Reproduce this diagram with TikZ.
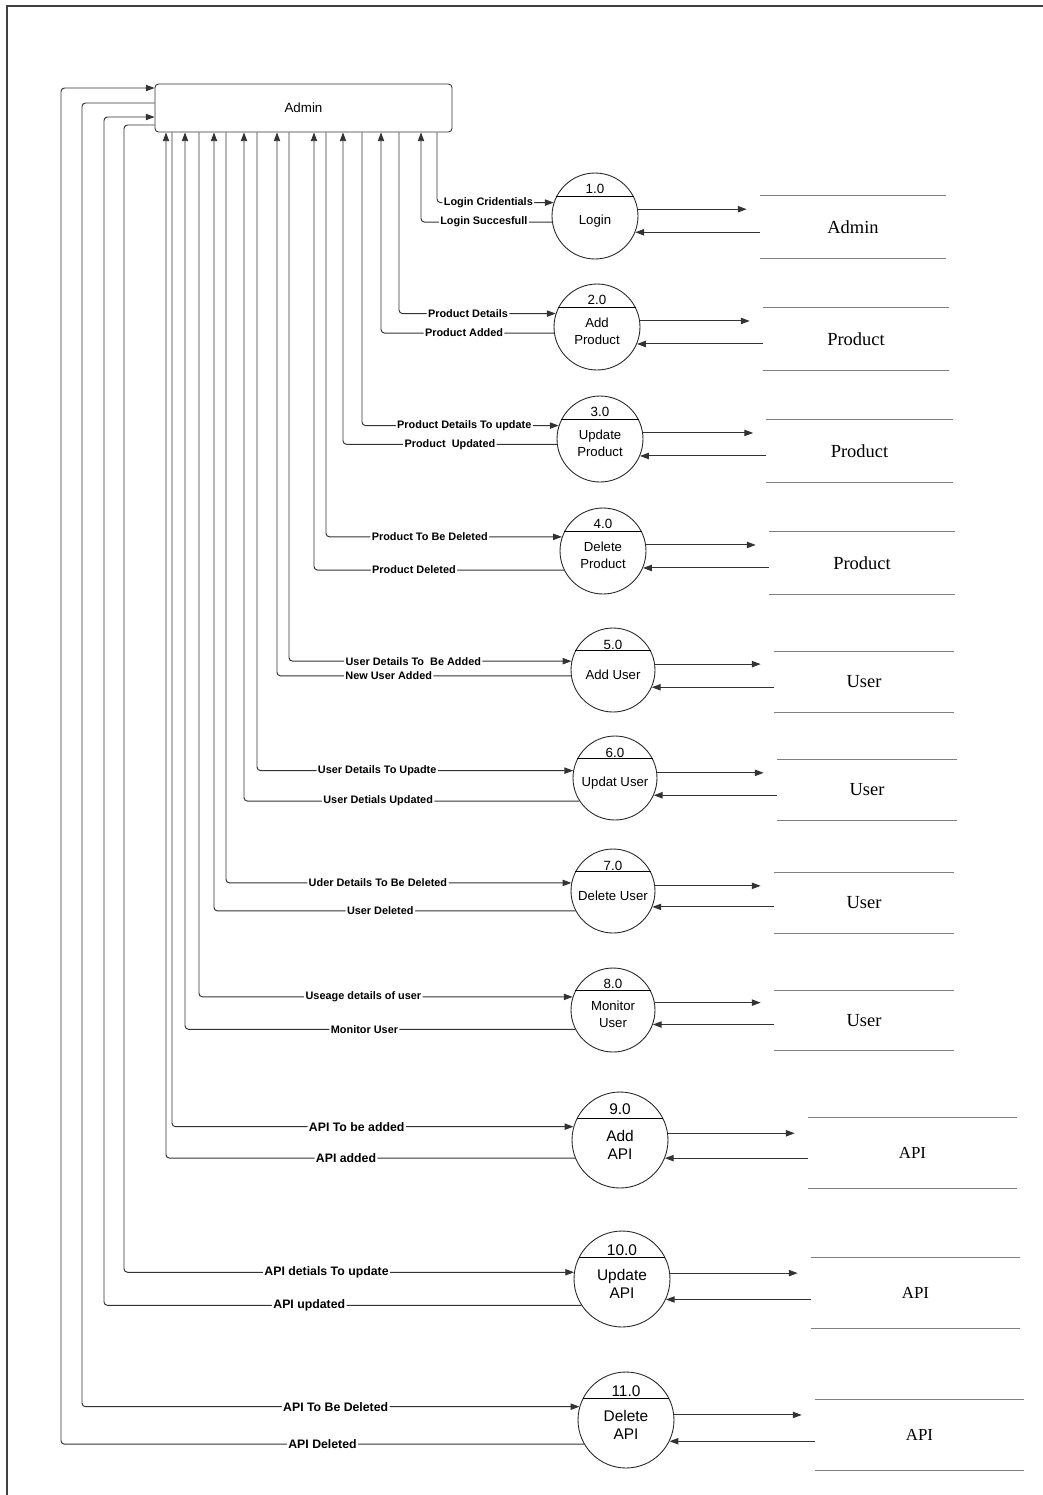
\documentclass[tikz,border=0pt]{standalone}
\usepackage{fontspec}
\setmainfont{Liberation Serif}
\setsansfont{Liberation Sans}
\usetikzlibrary{arrows.meta, calc}

\begin{document}
\begin{tikzpicture}[x=0.02cm, y=-0.02cm,
  proc/.style={circle, draw=black!85, line width=0.5pt, minimum size=1.72cm, inner sep=0pt, align=center, font=\sffamily\fontsize{7.5}{9.7}\selectfont, execute at begin node={\rule{0pt}{11.2pt}}},
  twoline/.style={execute at begin node={\rule{0pt}{19.8pt}}},
  bigproc/.style={proc, minimum size=1.92cm, font=\sffamily\fontsize{8.8}{10.3}\selectfont, execute at begin node={\rule{0pt}{21.8pt}}},
  num/.style={inner sep=0pt, font=\sffamily\fontsize{7.6}{9}\selectfont},
  bignum/.style={num, font=\sffamily\fontsize{8.8}{10.3}\selectfont},
  flow/.style={draw=black!80, line width=0.55pt, rounded corners=2pt, -{Triangle[length=5pt, width=3.6pt]}},
  tostore/.style={flow, shorten >=0.26cm},
  lbl/.style={fill=white, inner sep=0.8pt, font=\sffamily\bfseries\fontsize{6.2}{7}\selectfont},
  biglbl/.style={lbl, font=\sffamily\bfseries\fontsize{7}{8}\selectfont},
  store/.style={minimum width=3.72cm, minimum height=1.24cm, inner sep=0pt, font=\fontsize{10.5}{12}\selectfont,
    append after command={(\tikzlastnode.north west) edge[gray, line width=0.6pt] (\tikzlastnode.north east)
      (\tikzlastnode.south west) edge[gray, line width=0.6pt] (\tikzlastnode.south east)}}]
\useasboundingbox (0,0) rectangle (1043,1495);

%frame
\draw[black!75, line width=0.7pt] (7,1495) -- (7,6) -- (1043,6);

%admin
\node[draw=black!80, rounded corners=2pt, line width=0.5pt, minimum width=5.94cm, minimum height=0.96cm, font=\sffamily\fontsize{7.6}{9}\selectfont] (admin) at (303.5,108) {Admin};

%login
\node[proc] (p1) at (595,216) {Login};
\draw (p1.153) -- (p1.27);
\node[num] (n1) at ($(p1)+(0,-27)$) {1.0};
\node[store] (s1) at (853,227) {Admin};
\draw[flow] (admin.south -| 437,0) |- (p1.162) node[lbl, pos=0.72] {Login Cridentials};
\draw[flow] (p1.188) -| (admin.south -| 421,0) node[lbl, pos=0.26] {Login Succesfull};
\draw[tostore] (p1.9) -- (p1.9 -| s1.west);
\draw[flow] (s1.west |- p1.-22) -- (p1.-22);

%add product
\node[proc, twoline] (p2) at (597,327) {Add\\Product};
\draw (p2.153) -- (p2.27);
\node[num] (n2) at ($(p2)+(0,-27)$) {2.0};
\node[store] (s2) at (856,339) {Product};
\draw[flow] (admin.south -| 399,0) |- (p2.162) node[lbl, pos=0.72] {Product Details};
\draw[flow] (p2.188) -| (admin.south -| 381,0) node[lbl, pos=0.26] {Product Added};
\draw[tostore] (p2.8) -- (p2.8 -| s2.west);
\draw[flow] (s2.west |- p2.-23) -- (p2.-23);

%update product
\node[proc, twoline] (p3) at (600,439) {Update\\Product};
\draw (p3.153) -- (p3.27);
\node[num] (n3) at ($(p3)+(0,-27)$) {3.0};
\node[store] (s3) at (859.5,451) {Product};
\draw[flow] (admin.south -| 362,0) |- (p3.162) node[lbl, pos=0.76] {Product Details To update};
\draw[flow] (p3.187) -| (admin.south -| 343,0) node[lbl, pos=0.25] {Product~ Updated};
\draw[tostore] (p3.8) -- (p3.8 -| s3.west);
\draw[flow] (s3.west |- p3.-23) -- (p3.-23);

%delete product
\node[proc, twoline] (p4) at (603,551) {Delete\\Product};
\draw (p4.153) -- (p4.27);
\node[num] (n4) at ($(p4)+(0,-27)$) {4.0};
\node[store] (s4) at (862,563) {Product};
\draw[flow] (admin.south -| 326,0) |- (p4.161) node[lbl, pos=0.72] {Product To Be Deleted};
\draw[flow] (p4.206) -| (admin.south -| 314,0) node[lbl, pos=0.30] {Product Deleted};
\draw[tostore] (p4.8) -- (p4.8 -| s4.west);
\draw[flow] (s4.west |- p4.-23) -- (p4.-23);

%add user
\node[proc, minimum size=1.68cm] (p5) at (613,670) {Add User};
\draw (p5.153) -- (p5.27);
\node[num] (n5) at ($(p5)+(0,-25)$) {5.0};
\node[store, minimum width=3.6cm, minimum height=1.2cm] (s5) at (864,682) {User};
\draw[flow] (admin.south -| 289,0) |- (p5.168) node[lbl, pos=0.72] {User Details To~ Be Added};
\draw[flow] (p5.188) -| (admin.south -| 277,0) node[lbl, pos=0.31] {New User Added};
\draw[tostore] (p5.8) -- (p5.8 -| s5.west);
\draw[flow] (s5.west |- p5.-24) -- (p5.-24);

%update user
\node[proc, minimum size=1.68cm] (p6) at (615,778) {Updat User};
\draw (p6.153) -- (p6.27);
\node[num] (n6) at ($(p6)+(0,-25)$) {6.0};
\node[store, minimum width=3.6cm, minimum height=1.2cm] (s6) at (867,790) {User};
\draw[flow] (admin.south -| 257,0) |- (p6.170) node[lbl, pos=0.69] {User Details To Upadte};
\draw[flow] (p6.213) -| (admin.south -| 244,0) node[lbl, pos=0.30] {User Detials Updated};
\draw[tostore] (p6.7) -- (p6.7 -| s6.west);
\draw[flow] (s6.west |- p6.-24) -- (p6.-24);

%delete user
\node[proc, minimum size=1.68cm] (p7) at (613,891) {Delete User};
\draw (p7.153) -- (p7.27);
\node[num] (n7) at ($(p7)+(0,-25)$) {7.0};
\node[store, minimum width=3.6cm, minimum height=1.2cm] (s7) at (864,903) {User};
\draw[flow] (admin.south -| 226,0) |- (p7.169) node[lbl, pos=0.72] {Uder Details To Be Deleted};
\draw[flow] (p7.208) -| (admin.south -| 214,0) node[lbl, pos=0.27] {User Deleted};
\draw[tostore] (p7.7) -- (p7.7 -| s7.west);
\draw[flow] (s7.west |- p7.-22) -- (p7.-22);

%monitor user
\node[proc, twoline, minimum size=1.68cm] (p8) at (613,1010) {Monitor\\User};
\draw (p8.153) -- (p8.27);
\node[num] (n8) at ($(p8)+(0,-26)$) {8.0};
\node[store, minimum width=3.6cm, minimum height=1.2cm] (s8) at (864,1020.5) {User};
\draw[flow] (admin.south -| 199,0) |- (p8.162) node[lbl, pos=0.72] {Useage details of user};
\draw[flow] (p8.207) -| (admin.south -| 185,0) node[lbl, pos=0.27] {Monitor User};
\draw[tostore] (p8.10) -- (p8.10 -| s8.west);
\draw[flow] (s8.west |- p8.-20) -- (p8.-20);

%add api
\node[bigproc] (p9) at (620,1140) {Add\\API};
\draw (p9.153) -- (p9.27);
\node[bignum] (n9) at ($(p9)+(0,-31)$) {9.0};
\node[store, minimum width=4.18cm, minimum height=1.4cm, font=\fontsize{9.6}{11}\selectfont] (s9) at (912.5,1153) {API};
\draw[flow] (admin.south -| 172,0) |- (p9.164) node[biglbl, pos=0.73] {API To be added};
\draw[flow] (p9.202) -| (admin.south -| 166,0) node[biglbl, pos=0.28] {API added};
\draw[tostore] (p9.8) -- (p9.8 -| s9.west);
\draw[flow] (s9.west |- p9.-22) -- (p9.-22);

%update api
\node[bigproc] (p10) at (622,1279) {Update\\API};
\draw (p10.153) -- (p10.27);
\node[bignum] (n10) at ($(p10)+(0,-29)$) {10.0};
\node[store, minimum width=4.18cm, minimum height=1.4cm, font=\fontsize{9.6}{11}\selectfont] (s10) at (915.5,1293) {API};
\draw[flow] (admin.west |- 0,125) -| (124,0 |- p10.172) -- (p10.172) node[biglbl, pos=0.45] {API detials To update};
\draw[flow] (p10.213) -- (104,0 |- p10.213) node[biglbl, pos=0.57] {API updated} |- (admin.west |- 0,117);
\draw[tostore] (p10.7) -- (p10.7 -| s10.west);
\draw[flow] (s10.west |- p10.-25) -- (p10.-25);

%delete api
\node[bigproc] (p11) at (626,1420) {Delete\\API};
\draw (p11.153) -- (p11.27);
\node[bignum] (n11) at ($(p11)+(0,-29)$) {11.0};
\node[store, minimum width=4.18cm, minimum height=1.4cm, font=\fontsize{9.6}{11}\selectfont] (s11) at (919.5,1435) {API};
\draw[flow] (admin.west |- 0,103) -| (82,0 |- p11.164) -- (p11.164) node[biglbl, pos=0.51] {API To Be Deleted};
\draw[flow] (p11.210) -- (61,0 |- p11.210) node[biglbl, pos=0.50] {API Deleted} |- (admin.west |- 0,88);
\draw[tostore] (p11.6) -- (p11.6 -| s11.west);
\draw[flow] (s11.west |- p11.-26) -- (p11.-26);

\end{tikzpicture}
\end{document}
